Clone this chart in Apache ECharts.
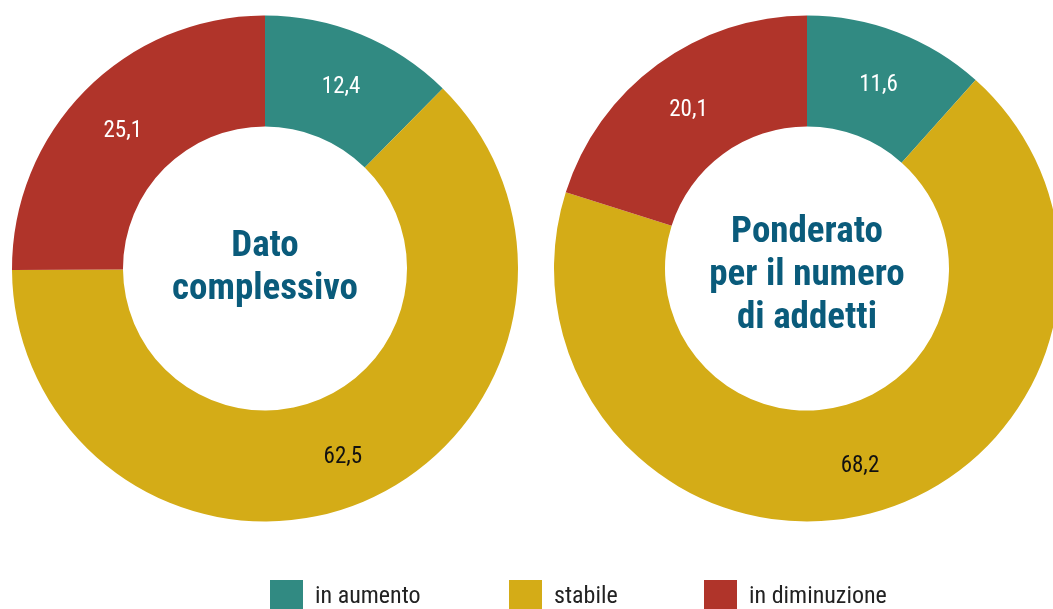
<!DOCTYPE html>
<html>
<head>
<meta charset="utf-8">
<script src="https://cdn.jsdelivr.net/npm/echarts@6/dist/echarts.min.js"></script>
<style>
  html, body { margin: 0; padding: 0; background: #fff; }
  #chart { width: 1053px; height: 609px; }
</style>
</head>
<body>
<div id="chart"></div>
<script>
const categories = ["in aumento", "stabile", "in diminuzione"];
const totalValues = [12.4, 62.5, 25.1];
const weightedValues = [11.6, 68.2, 20.1];
const centerTitles = ["Dato\ncomplessivo", "Ponderato\nper il numero\ndi addetti"];

const colors = ["#318a82", "#d4ac17", "#b0342a"];
const labelColors = ["#ffffff", "#111111", "#ffffff"];
const narrowFont = "'Roboto Condensed', 'Liberation Sans Narrow', 'DejaVu Sans Condensed', sans-serif";
const titleColor = "#0a5b7b";

const chart = echarts.init(document.getElementById("chart"));

// una ciambella per ogni insieme di valori
const centers = [[265, 268.5], [807, 268.5]];
const titleY = [268, 276];

const makePie = (values, center) => ({
  type: "pie",
  center: center,
  radius: [142, 253],
  startAngle: 90,
  clockwise: true,
  silent: true,
  label: {
    show: true,
    position: "inside",
    fontFamily: narrowFont,
    fontSize: 23,
    offset: [0, 4],
    formatter: (p) => String(p.value).replace(".", ",")
  },
  labelLine: { show: false },
  data: values.map((v, i) => ({
    name: categories[i],
    value: v,
    itemStyle: { color: colors[i] },
    label: { color: labelColors[i] }
  }))
});

const legendLeft = [270, 509, 704];

chart.setOption({
  backgroundColor: "#fff",
  animation: false,
  color: colors,
  legend: categories.map((c, i) => ({
    data: [c],
    left: legendLeft[i],
    top: 580,
    padding: 0,
    icon: "rect",
    itemWidth: 33,
    itemHeight: 33,
    selectedMode: false,
    textStyle: {
      fontFamily: narrowFont,
      fontSize: 24,
      color: "#222",
      padding: [2, 0, 0, 7]
    }
  })),
  graphic: centerTitles.map((t, i) => ({
    type: "text",
    x: centers[i][0],
    y: titleY[i],
    silent: true,
    style: {
      text: t,
      fill: titleColor,
      font: "bold 37px " + narrowFont,
      lineHeight: 43,
      align: "center",
      verticalAlign: "middle",
      textAlign: "center",
      textVerticalAlign: "middle"
    }
  })),
  series: [
    makePie(totalValues, centers[0]),
    makePie(weightedValues, centers[1])
  ]
});
</script>
</body>
</html>
